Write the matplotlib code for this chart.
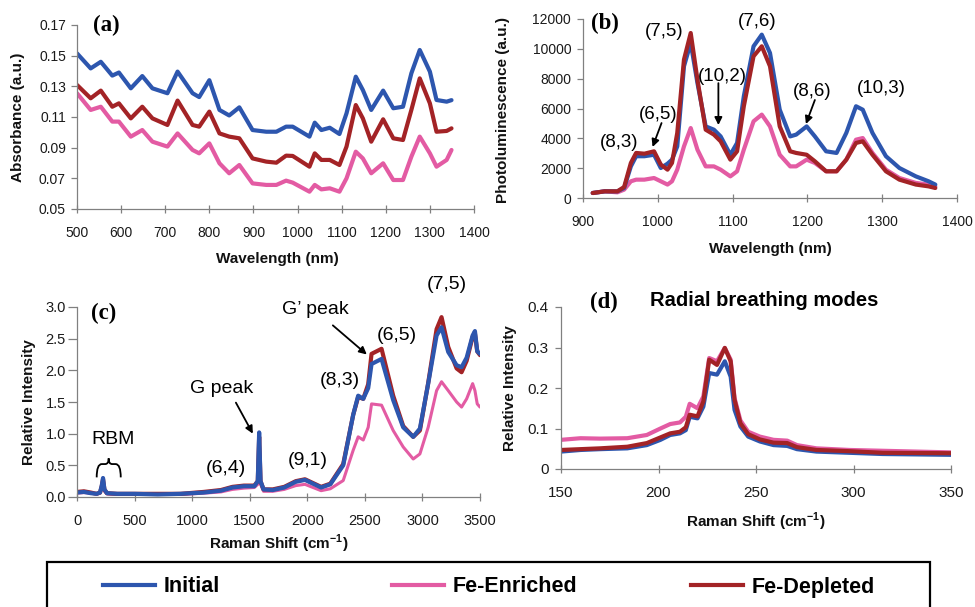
import matplotlib
matplotlib.use('Agg')
import matplotlib.pyplot as plt
from matplotlib.lines import Line2D
from matplotlib.patches import Rectangle, PathPatch
from matplotlib.path import Path

plt.rcParams['font.family'] = ['Liberation Sans', 'DejaVu Sans']
plt.rcParams['mathtext.fontset'] = 'custom'
plt.rcParams['mathtext.rm'] = 'Liberation Sans'
plt.rcParams['mathtext.bf'] = 'Liberation Sans:bold'

BLUE = '#2d56ae'
PINK = '#e35ba3'
RED = '#a32326'

# ---------------- (a) Absorbance ----------------
abs_x = [500, 531, 554, 580, 595, 622, 648, 671, 705, 728, 762, 777, 800, 823, 845, 868,
         898, 929, 952, 974, 989, 1027, 1039, 1054, 1073, 1095, 1111, 1132, 1148, 1167,
         1194, 1217, 1239, 1258, 1277, 1300, 1315, 1338, 1349]
abs_initial = [0.1515, 0.1417, 0.146, 0.137, 0.139, 0.1287, 0.1367, 0.1287, 0.1255, 0.1396,
               0.1255, 0.123, 0.134, 0.1146, 0.111, 0.1163, 0.1015, 0.1004, 0.1004, 0.1037,
               0.1037, 0.0972, 0.1063, 0.1015, 0.103, 0.0989, 0.1124, 0.1363, 0.1276, 0.1146,
               0.1272, 0.1157, 0.1167, 0.1385, 0.1537, 0.1396, 0.1211, 0.12, 0.121]
abs_depleted = [0.1309, 0.1222, 0.1272, 0.1167, 0.1189, 0.1091, 0.1167, 0.1091, 0.1048, 0.1207,
                0.1048, 0.1037, 0.1135, 0.0993, 0.0972, 0.0961, 0.083, 0.0809, 0.0802, 0.0848,
                0.0846, 0.0776, 0.0863, 0.082, 0.082, 0.0787, 0.0907, 0.1178, 0.1091, 0.0939,
                0.1085, 0.0961, 0.095, 0.1146, 0.1352, 0.1189, 0.1004, 0.1009, 0.1026]
abs_enriched = [0.1255, 0.1146, 0.1167, 0.107, 0.107, 0.0972, 0.1015, 0.0939, 0.0907, 0.0993,
                0.0885, 0.0863, 0.0928, 0.0798, 0.0733, 0.0787, 0.0667, 0.0657, 0.0657, 0.0685,
                0.0672, 0.0613, 0.0657, 0.0628, 0.0635, 0.0613, 0.07, 0.0874, 0.083, 0.0733,
                0.0798, 0.0689, 0.0689, 0.0841, 0.0972, 0.0863, 0.0776, 0.082, 0.0885]

# ---------------- (b) Photoluminescence ----------------
pl_x = [913, 929, 946, 955, 964, 971, 982, 995, 1004, 1013, 1019, 1026, 1035, 1044, 1053,
        1064, 1075, 1084, 1097, 1106, 1115, 1128, 1139, 1150, 1163, 1177, 1185, 1199, 1210,
        1225, 1239, 1252, 1265, 1274, 1287, 1305, 1323, 1345, 1362, 1371]
pl_initial = [335, 447, 447, 670, 2120, 2800, 2800, 2900, 2010, 2300, 2570, 3460, 8830, 10400,
              7710, 4800, 4580, 4130, 2900, 3690, 6820, 10170, 10950, 9720, 5920, 4130, 4250,
              4800, 4130, 3130, 3020, 4360, 6150, 5920, 4360, 2800, 2010, 1450, 1120, 900]
pl_depleted = [335, 447, 447, 740, 2350, 3020, 2970, 3130, 2240, 1900, 2350, 4360, 9280, 11060,
               7930, 4580, 4250, 3800, 2570, 3130, 6150, 9500, 10170, 8830, 4800, 3130, 3020,
               2900, 2460, 1790, 1790, 2570, 3690, 3800, 2900, 1790, 1230, 900, 780, 670]
pl_enriched = [335, 447, 380, 560, 1120, 1230, 1230, 1340, 1120, 900, 1120, 1900, 3460, 4690,
               3240, 2120, 2120, 1900, 1450, 1790, 3240, 5140, 5590, 4800, 2900, 2120, 2120,
               2570, 2350, 1790, 1790, 2570, 3910, 4020, 3020, 1900, 1340, 1010, 900, 780]

# ---------------- (c) Raman ----------------
raman_x = [0, 60, 120, 170, 200, 215, 226, 238, 260, 350, 500, 700, 900, 1100, 1250, 1350,
           1450, 1540, 1570, 1582, 1594, 1620, 1700, 1800, 1900, 1980, 2050, 2120, 2200, 2312,
           2399, 2442, 2486, 2529, 2558, 2645, 2746, 2833, 2920, 2978, 3050, 3123, 3166, 3224,
           3297, 3340, 3384, 3436, 3456, 3476, 3500]
raman_initial = [0.07, 0.08, 0.06, 0.05, 0.07, 0.18, 0.30, 0.12, 0.06, 0.05, 0.05, 0.04, 0.05,
                 0.07, 0.10, 0.15, 0.17, 0.17, 0.25, 1.02, 0.25, 0.12, 0.11, 0.15, 0.24, 0.27,
                 0.21, 0.15, 0.20, 0.50, 1.30, 1.60, 1.55, 1.72, 2.10, 2.18, 1.53, 1.10, 0.95,
                 1.08, 1.79, 2.55, 2.68, 2.29, 2.08, 2.05, 2.20, 2.55, 2.62, 2.30, 2.26]
raman_depleted = [0.08, 0.09, 0.07, 0.05, 0.07, 0.17, 0.28, 0.12, 0.06, 0.05, 0.05, 0.05, 0.05,
                  0.08, 0.11, 0.16, 0.18, 0.18, 0.25, 0.95, 0.25, 0.12, 0.12, 0.16, 0.25, 0.28,
                  0.22, 0.16, 0.21, 0.52, 1.30, 1.58, 1.55, 1.78, 2.26, 2.34, 1.60, 1.12, 0.95,
                  1.05, 1.80, 2.65, 2.84, 2.37, 2.03, 1.97, 2.15, 2.53, 2.58, 2.30, 2.24]
raman_enriched = [0.06, 0.07, 0.06, 0.05, 0.06, 0.14, 0.22, 0.09, 0.05, 0.04, 0.04, 0.04, 0.04,
                  0.06, 0.08, 0.12, 0.14, 0.15, 0.20, 0.70, 0.20, 0.09, 0.09, 0.12, 0.18, 0.20,
                  0.15, 0.10, 0.13, 0.26, 0.74, 0.95, 0.90, 1.10, 1.47, 1.45, 1.05, 0.79, 0.60,
                  0.68, 1.10, 1.68, 1.82, 1.68, 1.50, 1.42, 1.55, 1.79, 1.68, 1.47, 1.42]

# ---------------- (d) RBM ----------------
rbm_x = [150, 160, 170, 184, 194, 201, 206, 211, 214, 216, 220, 223, 226, 230, 234, 237, 239,
         242, 246, 252, 259, 266, 271, 281, 298, 315, 350]
rbm_initial = [0.043, 0.047, 0.049, 0.051, 0.059, 0.072, 0.084, 0.088, 0.096, 0.129, 0.125, 0.154,
               0.237, 0.233, 0.266, 0.228, 0.146, 0.105, 0.08, 0.068, 0.059, 0.057, 0.049, 0.043,
               0.040, 0.037, 0.035]
rbm_depleted = [0.047, 0.049, 0.051, 0.055, 0.064, 0.078, 0.088, 0.092, 0.103, 0.134, 0.13, 0.167,
                0.27, 0.257, 0.299, 0.266, 0.171, 0.113, 0.086, 0.073, 0.065, 0.064, 0.054, 0.047,
                0.044, 0.040, 0.039]
rbm_enriched = [0.072, 0.076, 0.075, 0.076, 0.084, 0.1, 0.111, 0.115, 0.129, 0.161, 0.15, 0.179,
                0.274, 0.266, 0.299, 0.27, 0.175, 0.12, 0.092, 0.08, 0.072, 0.07, 0.059, 0.051,
                0.047, 0.045, 0.041]

series_labels = ['Initial', 'Fe-Enriched', 'Fe-Depleted']

W, H = 975, 607
fig = plt.figure(figsize=(W / 100, H / 100), dpi=100)


def box(l, t, r, b):
    return [l / W, 1 - b / H, (r - l) / W, (b - t) / H]


def ft(x, y, s, **kw):
    return fig.text(x / W, 1 - y / H, s, **kw)


def style(ax, xlim, ylim, xticks, yticks, size=10, ytlen=4.5, ypad=3.5):
    ax.set_xlim(xlim)
    ax.set_ylim(ylim)
    ax.set_xticks(xticks)
    ax.set_yticks(yticks)
    for s in ['top', 'right']:
        ax.spines[s].set_visible(False)
    for s in ['left', 'bottom']:
        ax.spines[s].set_color('#808080')
        ax.spines[s].set_linewidth(0.9)
    ax.tick_params(axis='x', direction='inout', length=6, width=0.9, color='#808080',
                   pad=9.2, labelsize=size, labelcolor='#1a1a1a')
    ax.tick_params(axis='y', direction='out', length=ytlen, width=0.9, color='#808080',
                   pad=ypad, labelsize=size, labelcolor='#1a1a1a')
    ax.patch.set_visible(False)


LW = 3.0
kw = dict(solid_capstyle='round', solid_joinstyle='round')

# (a)
ax_a = fig.add_axes(box(77, 25, 474, 209))
ax_a.plot(abs_x, abs_initial, color=BLUE, lw=LW, **kw)
ax_a.plot(abs_x, abs_depleted, color=RED, lw=LW, **kw)
ax_a.plot(abs_x, abs_enriched, color=PINK, lw=LW, **kw)
style(ax_a, (500, 1400), (0.05, 0.17), range(500, 1401, 100),
      [0.05, 0.07, 0.09, 0.11, 0.13, 0.15, 0.17])
ax_a.set_yticklabels(['%.2f' % v for v in [0.05, 0.07, 0.09, 0.11, 0.13, 0.15, 0.17]])

# (b)
ax_b = fig.add_axes(box(583, 19, 957, 198))
ax_b.plot(pl_x, pl_enriched, color=PINK, lw=LW, **kw)
ax_b.plot(pl_x, pl_initial, color=BLUE, lw=LW, **kw)
ax_b.plot(pl_x, pl_depleted, color=RED, lw=LW, **kw)
style(ax_b, (900, 1400), (0, 12000), range(900, 1401, 100), range(0, 12001, 2000), ypad=4)

# (c)
ax_c = fig.add_axes(box(77, 307, 480, 497))
ax_c.plot(raman_x, raman_enriched, color=PINK, lw=2.2, **kw)
ax_c.plot(raman_x, raman_depleted, color=RED, lw=LW, **kw)
ax_c.plot(raman_x, raman_initial, color=BLUE, lw=LW, **kw)
style(ax_c, (0, 3500), (0, 3.0), range(0, 3501, 500), [0, 0.5, 1.0, 1.5, 2.0, 2.5, 3.0],
      size=10.5, ytlen=6.5, ypad=1.5)
ax_c.set_yticklabels(['%.1f' % v for v in [0, 0.5, 1.0, 1.5, 2.0, 2.5, 3.0]])

# (d)
ax_d = fig.add_axes(box(561, 307, 951, 469))
ax_d.plot(rbm_x, rbm_initial, color=BLUE, lw=LW, **kw)
ax_d.plot(rbm_x, rbm_enriched, color=PINK, lw=LW, **kw)
ax_d.plot(rbm_x, rbm_depleted, color=RED, lw=LW, **kw)
style(ax_d, (150, 350), (0, 0.4), range(150, 351, 50), [0, 0.1, 0.2, 0.3, 0.4], size=11, ypad=4.5)
ax_d.set_yticklabels(['0', '0.1', '0.2', '0.3', '0.4'])

# axis labels
lab = dict(fontsize=11, fontweight='bold', ha='center', va='center', color='#111111')
ft(18, 117, 'Absorbance (a.u.)', rotation=90, **lab)
ft(503, 110, 'Photoluminescence (a.u.)', rotation=90, **lab)
ft(29, 402, 'Relative Intensity', rotation=90, **lab)
ft(510, 388, 'Relative Intensity', rotation=90, **lab)
ft(277, 259, 'Wavelength (nm)', **lab)
ft(770, 249, 'Wavelength (nm)', **lab)
ft(279, 544, r'Raman Shift (cm$^{\mathbf{-1}}$)', **lab)
ft(756, 522, r'Raman Shift (cm$^{\mathbf{-1}}$)', **lab)

# panel letters
pl = dict(fontsize=16.5, fontweight='bold', family='Liberation Serif', ha='center', va='center')
ft(106, 25, '(a)', **pl)
ft(605, 23, '(b)', **pl)
ft(104, 313, '(c)', **pl)
ft(604, 302, '(d)', **pl)
ft(764, 301, 'Radial breathing modes', fontsize=14.5, fontweight='bold', ha='center', va='center')

# annotations
arr = dict(arrowstyle='-|>', color='black', lw=1.3, mutation_scale=11, shrinkA=0, shrinkB=0)
ann_b = dict(fontsize=13.5, ha='center', va='center')
ax_b.text(1008, 11150, '(7,5)', **ann_b)
ax_b.text(1133, 11800, '(7,6)', **ann_b)
ax_b.text(1086, 8170, '(10,2)', **ann_b)
ax_b.text(1207, 7170, '(8,6)', **ann_b)
ax_b.text(1299, 7370, '(10,3)', **ann_b)
ax_b.text(1000, 5630, '(6,5)', **ann_b)
ax_b.text(948, 3690, '(8,3)', **ann_b)
ax_b.annotate('', xy=(1081, 4890), xytext=(1081, 7700), arrowprops=arr)
ax_b.annotate('', xy=(1198, 4960), xytext=(1210, 6570), arrowprops=arr)
ax_b.annotate('', xy=(993, 3420), xytext=(1005, 5025), arrowprops=arr)

ann_c = dict(fontsize=14, ha='center', va='center')
ax_c.text(310, 0.91, 'RBM', **ann_c)
ax_c.text(1259, 1.71, 'G peak', **ann_c)
ax_c.text(1292, 0.45, '(6,4)', **ann_c)
ax_c.text(2005, 0.58, '(9,1)', **ann_c)
ax_c.text(2283, 1.84, '(8,3)', **ann_c)
ax_c.text(2074, 2.96, 'G\u2019 peak', **ann_c)
ax_c.text(2778, 2.55, '(6,5)', **ann_c)
ax_c.text(3213, 3.36, '(7,5)', **ann_c)
ax_c.annotate('', xy=(1527, 1.0), xytext=(1380, 1.49), arrowprops=arr)
ax_c.annotate('', xy=(2517, 2.25), xytext=(2222, 2.71), arrowprops=arr)

# curly brace over the RBM region
brace_verts = [(171, 0.31), (171, 0.52), (215, 0.52), (245, 0.52), (275, 0.52), (275, 0.61),
               (275, 0.52), (305, 0.52), (335, 0.52), (380, 0.52), (380, 0.31)]
brace_codes = [Path.MOVETO, Path.CURVE3, Path.CURVE3, Path.LINETO, Path.CURVE3, Path.CURVE3,
               Path.CURVE3, Path.CURVE3, Path.LINETO, Path.CURVE3, Path.CURVE3]
ax_c.add_patch(PathPatch(Path(brace_verts, brace_codes), fill=False, ec='black', lw=1.3,
                         clip_on=False))

# legend
fig.patches.append(Rectangle((47 / W, -0.05), (930 - 47) / W, (607 - 562) / H + 0.05,
                             transform=fig.transFigure, fill=False, ec='black', lw=1.6))
for x0, color, label in [(103, BLUE, series_labels[0]), (392, PINK, series_labels[1]),
                         (691, RED, series_labels[2])]:
    h = Line2D([], [], color=color, lw=3)
    fig.legend([h], [label], loc='center left', bbox_to_anchor=(x0 / W, 1 - 587 / H),
               frameon=False, borderpad=0, borderaxespad=0, handlelength=2.4,
               handletextpad=0.4, prop=dict(family='Liberation Sans', weight='bold', size=15.5))

fig.savefig('out.png', dpi=100)
